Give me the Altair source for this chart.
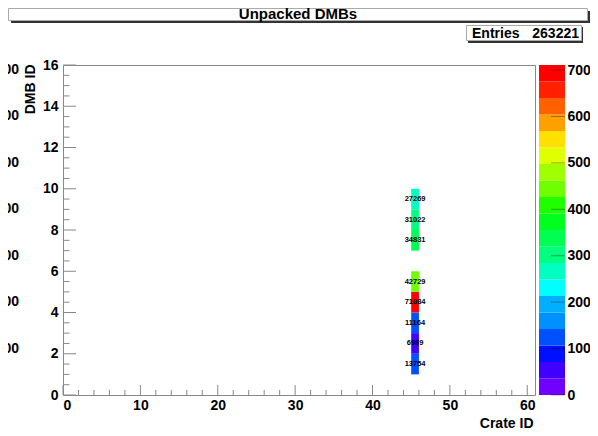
import altair as alt
import pandas as pd

# ---- data ----
crate_id = 45
dmb_ids = [1, 2, 3, 4, 5, 7, 8, 9]
counts = [13754, 6989, 11164, 71084, 42729, 34831, 31022, 27269]
entries = 263221
zmax = 71084

x_major = [0, 10, 20, 30, 40, 50, 60]
x_minor = [v for v in range(0, 61, 2) if v % 10 != 0]
y_major = [0, 2, 4, 6, 8, 10, 12, 14, 16]
y_minor = [v / 2 for v in range(0, 33) if v % 4 != 0]
pal_ticks = [0, 10000, 20000, 30000, 40000, 50000, 60000, 70000]
ghost_vals = [10000, 20000, 30000, 40000, 50000, 60000, 70000]

palette = ["#7000ff", "#4000ff", "#0010ff", "#0050ff", "#0090ff", "#00b0ff",
           "#00ffff", "#00ffc0", "#00ff80", "#00ff50", "#00ff20", "#20ff00",
           "#70ff00", "#a0ff00", "#e0ff00", "#ffe000", "#ffa000", "#ff6000",
           "#ff2000", "#ff0000"]

FONT = "Liberation Sans"
W, H = 472, 330

cells = pd.DataFrame({"crate": [crate_id] * len(dmb_ids), "dmb": dmb_ids, "count": counts})
cells["crate2"] = cells["crate"] + 1
cells["dmb2"] = cells["dmb"] + 1

nb = len(palette)
step = zmax / nb
bands = pd.DataFrame({"lo": [i * step for i in range(nb)],
                      "hi": [(i + 1) * step for i in range(nb)]})
bands["mid"] = (bands["lo"] + bands["hi"]) / 2

dummy = pd.DataFrame({"a": [0]})

xscale = alt.Scale(domain=[0, 61], nice=False, zero=False)
yscale = alt.Scale(domain=[0, 16], nice=False, zero=False)
pscale = alt.Scale(domain=[0, zmax], nice=False, zero=False)
cscale = alt.Scale(type="quantize", domain=[0, zmax], range=palette, nice=False)

xaxis = alt.Axis(values=x_major, title="Crate ID", ticks=False, tickSize=0, domain=False,
                 grid=False, labelFont=FONT, labelFontSize=14, labelFontWeight="bold",
                 labelColor="black", labelPadding=3, titleFont=FONT, titleFontSize=14,
                 titleFontWeight="bold", titleColor="black", titleAnchor="end",
                 titleAlign="right", titleX=470, titleY=32, titleBaseline="alphabetic")
yaxis = alt.Axis(values=y_major, title="DMB ID", ticks=False, tickSize=0, domain=False,
                 grid=False, labelFont=FONT, labelFontSize=14, labelFontWeight="bold",
                 labelColor="black", labelPadding=5, titleFont=FONT, titleFontSize=14,
                 titleFontWeight="bold", titleColor="black", titleAngle=270,
                 titleAlign="right", titleBaseline="middle", titleX=-33, titleY=-1)
paxis = alt.Axis(values=pal_ticks, orient="right", offset=30, title=None, ticks=False,
                 tickSize=0, domain=False, grid=False, format="d", labelFont=FONT,
                 labelFontSize=14, labelFontWeight="bold", labelColor="black",
                 labelPadding=2)

# ---- decorations: title box and stats box ----
t_shadow = alt.Chart(dummy).mark_rect(color="#333333").encode(
    x=alt.value(-52), x2=alt.value(527), y=alt.value(-54), y2=alt.value(-42))
t_box = alt.Chart(dummy).mark_rect(fill="white", stroke="#aaaaaa", strokeWidth=1).encode(
    x=alt.value(-54.5), x2=alt.value(524.5), y=alt.value(-56.5), y2=alt.value(-44.5))
t_text = alt.Chart(dummy).mark_text(text="Unpacked DMBs", font=FONT, fontSize=15,
                                    fontWeight="bold", color="black", align="center",
                                    baseline="alphabetic").encode(
    x=alt.value(235), y=alt.value(-46))

e_shadow = alt.Chart(dummy).mark_rect(color="#333333").encode(
    x=alt.value(405), x2=alt.value(520), y=alt.value(-38), y2=alt.value(-22))
e_box = alt.Chart(dummy).mark_rect(fill="white", stroke="#aaaaaa", strokeWidth=1).encode(
    x=alt.value(403.5), x2=alt.value(518.5), y=alt.value(-39.5), y2=alt.value(-24.5))
e_lab = alt.Chart(dummy).mark_text(text="Entries", font=FONT, fontSize=14, fontWeight="bold",
                                   color="black", align="left", baseline="alphabetic").encode(
    x=alt.value(409), y=alt.value(-27.5))
e_val = alt.Chart(dummy).mark_text(text=str(entries), font=FONT, fontSize=14, fontWeight="bold",
                                   color="black", align="right", baseline="alphabetic").encode(
    x=alt.value(516), y=alt.value(-27.5))

# ---- histogram cells ----
heat = alt.Chart(cells).mark_rect().encode(
    x=alt.X("crate:Q", scale=xscale, axis=xaxis),
    x2="crate2:Q",
    y=alt.Y("dmb:Q", scale=yscale, axis=yaxis),
    y2="dmb2:Q",
    color=alt.Color("count:Q", scale=cscale, legend=None),
)
labels = alt.Chart(cells).transform_calculate(
    xc="datum.crate + 0.5", yc="datum.dmb + 0.5").mark_text(
    font=FONT, fontSize=7.5, fontWeight="bold", color="black", baseline="middle").encode(
    x=alt.X("xc:Q", scale=xscale, axis=xaxis),
    y=alt.Y("yc:Q", scale=yscale, axis=None),
    text=alt.Text("count:Q", format="d"),
)

# ---- inward ticks (ROOT style) ----
TICK = "#888888"
xmaj = alt.Chart(pd.DataFrame({"t": x_major})).mark_rule(color=TICK).encode(
    x=alt.X("t:Q", scale=xscale, axis=xaxis), y=alt.value(H), y2=alt.value(H - 10))
xmin = alt.Chart(pd.DataFrame({"t": x_minor})).mark_rule(color=TICK).encode(
    x=alt.X("t:Q", scale=xscale, axis=xaxis), y=alt.value(H), y2=alt.value(H - 5))
ymaj = alt.Chart(pd.DataFrame({"t": y_major})).mark_rule(color=TICK).encode(
    y=alt.Y("t:Q", scale=yscale, axis=None), x=alt.value(0), x2=alt.value(13))
ymin = alt.Chart(pd.DataFrame({"t": y_minor})).mark_rule(color=TICK).encode(
    y=alt.Y("t:Q", scale=yscale, axis=None), x=alt.value(0), x2=alt.value(6.5))

# ---- colour palette ----
pal = alt.Chart(bands).mark_rect().encode(
    y=alt.Y("lo:Q", scale=pscale, axis=paxis),
    y2="hi:Q",
    x=alt.value(476), x2=alt.value(502),
    color=alt.Color("mid:Q", scale=cscale, legend=None),
)
pal_t = alt.Chart(pd.DataFrame({"v": pal_ticks})).mark_rule(color="black", opacity=0.35).encode(
    y=alt.Y("v:Q", scale=pscale, axis=None), x=alt.value(488), x2=alt.value(502))
ghost = alt.Chart(pd.DataFrame({"v": ghost_vals})).mark_text(
    font=FONT, fontSize=14, fontWeight="bold", color="black", align="right",
    baseline="middle").encode(
    y=alt.Y("v:Q", scale=pscale, axis=None), x=alt.value(-44),
    text=alt.Text("v:Q", format="d"))

chart = alt.layer(
    t_shadow, t_box, t_text, e_shadow, e_box, e_lab, e_val,
    heat, labels, xmaj, xmin, ymaj, ymin, pal, pal_t, ghost,
).resolve_scale(y="independent").properties(
    width=W, height=H,
    autosize=alt.AutoSizeParams(type="none"),
    padding={"left": 55, "top": 57, "right": 55, "bottom": 35},
    background="white",
).configure_view(stroke="#888888", strokeWidth=1)

chart.save("out.html", embed_options={"renderer": "svg", "actions": False})
